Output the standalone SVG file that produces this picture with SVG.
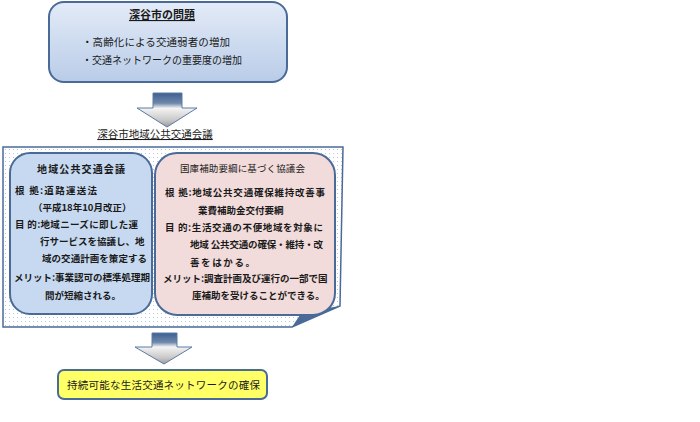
<svg xmlns="http://www.w3.org/2000/svg" width="700" height="422" viewBox="0 0 700 422">
<defs>
<style>
.t{font-family:"Noto Sans CJK JP","Noto Sans",sans-serif;fill:#1a1a1a}
.b{font-weight:bold}
.box{stroke:#4a6a98;stroke-width:2}
</style>
<linearGradient id="topg" x1="0" y1="0" x2="0" y2="1">
<stop offset="0" stop-color="#e3ebf7"/><stop offset="1" stop-color="#b9cce8"/>
</linearGradient>
<linearGradient id="arrg" x1="0" y1="0" x2="0" y2="1">
<stop offset="0" stop-color="#3d5f90"/><stop offset="0.3" stop-color="#6f88aa"/><stop offset="0.45" stop-color="#f4f4f4"/><stop offset="0.8" stop-color="#c8c8c8"/><stop offset="1" stop-color="#9a9a9a"/>
</linearGradient>
<pattern id="dots" width="4" height="4" patternUnits="userSpaceOnUse">
<rect width="4" height="4" fill="#ffffff"/><rect x="1" y="1" width="1" height="1" fill="#b8c8e0"/>
</pattern>
</defs>
<rect width="700" height="422" fill="#ffffff"/>

<g id="problem">
<rect class="box" x="49" y="2" width="238" height="80" rx="15" fill="url(#topg)"/>
<text class="t b" x="162" y="19" font-size="11" text-anchor="middle" text-decoration="underline">深谷市の問題</text>
<text class="t" x="82" y="46" font-size="10.5" textLength="148" lengthAdjust="spacing">・高齢化による交通弱者の増加</text>
<text class="t" x="82" y="64" font-size="10.5" textLength="160" lengthAdjust="spacingAndGlyphs">・交通ネットワークの重要度の増加</text>
</g>

<g id="connectors">
<path d="M153,93 H182 V108 H197 L167,127 L137,108 H153 Z" fill="url(#arrg)" stroke="#5a7aa5" stroke-width="1"/>
<path d="M152,333 H177 V347 H192 L164,364 L135,347 H152 Z" fill="url(#arrg)" stroke="#5a7aa5" stroke-width="1"/>
</g>

<g id="council">
<text class="t" x="155" y="138" font-size="10.5" text-anchor="middle" text-decoration="underline">深谷市地域公共交通会議</text>
<path d="M3,147 H343 L340,306 L292,327 H3 Z" fill="url(#dots)" stroke="#4a6a98" stroke-width="1.5"/>
<path d="M340,306 L302,312 L292,327 Z" fill="#4a6a98"/>
</g>

<g id="local-council">
<rect class="box" x="10" y="153" width="142" height="161" rx="20" fill="#c6d9f0"/>
<text class="t b" x="37" y="173" font-size="10" textLength="88" lengthAdjust="spacing">地域公共交通会議</text>
<g class="t b" font-size="9.5" lengthAdjust="spacing">
<text x="15" y="194" textLength="82">根 拠:道路運送法</text>
<text x="33" y="211">（平成18年10月改正）</text>
<text x="15" y="228" textLength="123">目 的:地域ニーズに即した運</text>
<text x="40" y="245">行サービスを協議し、地</text>
<text x="42" y="262" textLength="105">域の交通計画を策定する</text>
<text x="14" y="281">メリット:事業認可の標準処理期</text>
<text x="45" y="299">間が短縮される。</text>
</g>
</g>

<g id="subsidy-council">
<rect class="box" x="155" y="153" width="180" height="162" rx="22" fill="#f2dcdb"/>
<text class="t" x="180" y="172" font-size="9.5" textLength="125" lengthAdjust="spacing">国庫補助要綱に基づく協議会</text>
<g class="t b" font-size="9.5" lengthAdjust="spacing">
<text x="165" y="196" textLength="160">根 拠:地域公共交通確保維持改善事</text>
<text x="198" y="214">業費補助金交付要綱</text>
<text x="165" y="231" textLength="158">目 的:生活交通の不便地域を対象に</text>
<text x="190" y="248" textLength="133">地域 公共交通の確保・維持・改</text>
<text x="190" y="266" textLength="65">善をはかる。</text>
<text x="163" y="282">メリット:調査計画及び運行の一部で国</text>
<text x="192" y="299">庫補助を受けることができる。</text>
</g>
</g>

<g id="goal">
<rect x="58" y="370" width="209" height="29" rx="6" fill="#ffff66" stroke="#4a6a98" stroke-width="2"/>
<text class="t" x="67" y="389" font-size="10.5" textLength="193" lengthAdjust="spacing">持続可能な生活交通ネットワークの確保</text>
</g>
</svg>
